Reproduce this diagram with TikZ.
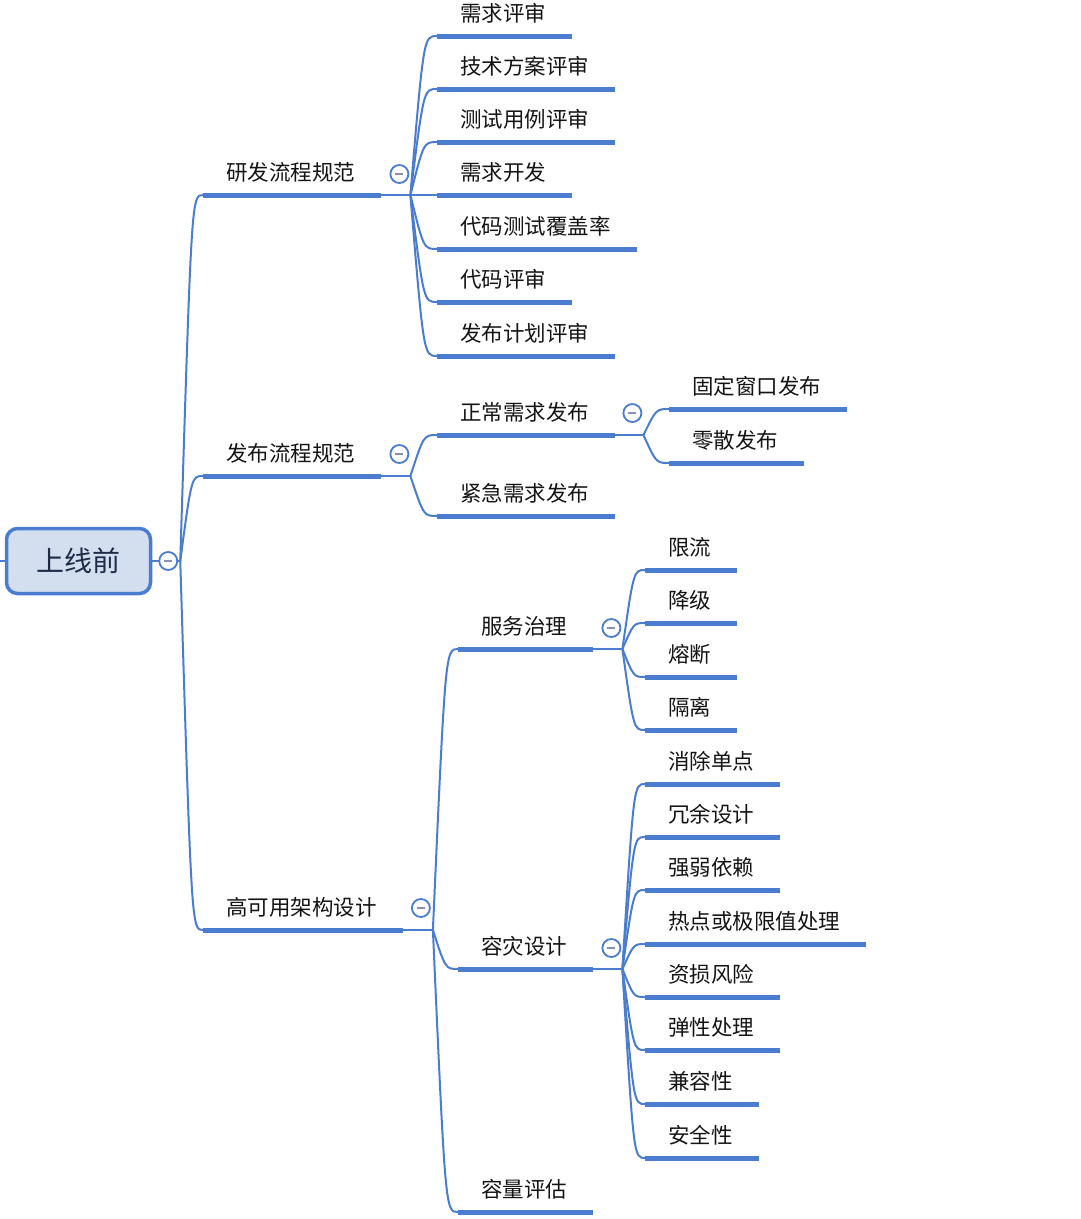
\documentclass[tikz,border=0pt]{standalone}
\usepackage{fontspec}
\newfontfamily\cjk{Noto Sans CJK SC}
\usetikzlibrary{calc}
\definecolor{branch}{HTML}{4A7CD0}
\definecolor{rootfill}{HTML}{D3DFEE}
\definecolor{rootink}{HTML}{1D2B48}
\definecolor{foldmark}{HTML}{8A90B4}

\tikzset{
  topic/.style={anchor=south west, font=\cjk\fontsize{21.5}{24}\selectfont, text=black!92,
    inner xsep=23pt, inner ysep=10pt, text height=18pt, text depth=4pt},
  rootbox/.style={draw=branch, line width=3.5pt, fill=rootfill, rounded corners=11pt,
    minimum width=144pt, minimum height=65pt, font=\cjk\fontsize{28}{32}\selectfont, text=rootink},
  uline/.style={draw=branch, line width=5pt},
  link/.style={draw=branch, line width=2pt},
  fold/.style={circle, draw=branch, line width=1.8pt, fill=white, minimum size=18pt, inner sep=0pt,
    path picture={\draw[foldmark, line width=1.6pt] ($(path picture bounding box.center)-(4,0)$) -- ++(8,0);}}
}

\begin{document}
\begin{tikzpicture}[x=1pt, y=-1pt]
    \useasboundingbox (0,0) rectangle (1080,1219);
    % Root
    \node[rootbox] (root) at (78.5,561) {上线前};

    % First level
    \node[topic] (rd) at (203,195) {研发流程规范};
    \node[topic] (fb) at (203,476) {发布流程规范};
    \node[topic] (gk) at (203,930) {高可用架构设计};

    % Development process
    \node[topic] (rd1) at (437,36) {需求评审};
    \node[topic] (rd2) at (437,89) {技术方案评审};
    \node[topic] (rd3) at (437,142) {测试用例评审};
    \node[topic] (rd4) at (437,195) {需求开发};
    \node[topic] (rd5) at (437,249) {代码测试覆盖率};
    \node[topic] (rd6) at (437,302) {代码评审};
    \node[topic] (rd7) at (437,356) {发布计划评审};

    % Release process
    \node[topic] (fb1) at (437,435) {正常需求发布};
    \node[topic] (fb2) at (437,516) {紧急需求发布};
    \node[topic] (fb11) at (669,409) {固定窗口发布};
    \node[topic] (fb12) at (669,463) {零散发布};

    % High availability
    \node[topic] (gk1) at (458,649) {服务治理};
    \node[topic] (gk2) at (458,969) {容灾设计};
    \node[topic] (gk3) at (458,1212) {容量评估};
    \node[topic] (gk11) at (645,570) {限流};
    \node[topic] (gk12) at (645,623) {降级};
    \node[topic] (gk13) at (645,677) {熔断};
    \node[topic] (gk14) at (645,730) {隔离};
    \node[topic] (gk21) at (645,784) {消除单点};
    \node[topic] (gk22) at (645,837) {冗余设计};
    \node[topic] (gk23) at (645,890) {强弱依赖};
    \node[topic] (gk24) at (645,944) {热点或极限值处理};
    \node[topic] (gk25) at (645,997) {资损风险};
    \node[topic] (gk26) at (645,1050) {弹性处理};
    \node[topic] (gk27) at (645,1104) {兼容性};
    \node[topic] (gk28) at (645,1158) {安全性};

    % Underlines
    \foreach \n in {rd,fb,gk,rd1,rd2,rd3,rd4,rd5,rd6,rd7,fb1,fb2,fb11,fb12,gk1,gk2,gk3,
      gk11,gk12,gk13,gk14,gk21,gk22,gk23,gk24,gk25,gk26,gk27,gk28}
      \draw[uline] (\n.south west) -- ($(\n.south east)+(3,0)$);

    % Connectors
    \draw[link] (root.west) -- ++(-8,0) coordinate (stub);
    \draw[link] (root.east) -- ++(28,0) coordinate (j0);
    \foreach \c in {rd,fb,gk}
      \draw[link] (j0) .. controls ($(j0 |- \c.south west)!0.5!(\c.south west)$) .. (\c.south west);
    \draw[link] (rd.south east) -- ++(32,0) coordinate (j1);
    \foreach \c in {rd1,rd2,rd3,rd4,rd5,rd6,rd7}
      \draw[link] (j1) .. controls ($(j1 |- \c.south west)!0.5!(\c.south west)$) .. (\c.south west);
    \draw[link] (fb.south east) -- ++(32,0) coordinate (j2);
    \foreach \c in {fb1,fb2}
      \draw[link] (j2) .. controls ($(j2 |- \c.south west)!0.5!(\c.south west)$) .. (\c.south west);
    \draw[link] (fb1.south east) -- ++(31,0) coordinate (j21);
    \foreach \c in {fb11,fb12}
      \draw[link] (j21) .. controls ($(j21 |- \c.south west)!0.5!(\c.south west)$) .. (\c.south west);
    \draw[link] (gk.south east) -- ++(33,0) coordinate (j3);
    \foreach \c in {gk1,gk2,gk3}
      \draw[link] (j3) .. controls ($(j3 |- \c.south west)!0.5!(\c.south west)$) .. (\c.south west);
    \draw[link] (gk1.south east) -- ++(32,0) coordinate (j31);
    \foreach \c in {gk11,gk12,gk13,gk14}
      \draw[link] (j31) .. controls ($(j31 |- \c.south west)!0.5!(\c.south west)$) .. (\c.south west);
    \draw[link] (gk2.south east) -- ++(32,0) coordinate (j32);
    \foreach \c in {gk21,gk22,gk23,gk24,gk25,gk26,gk27,gk28}
      \draw[link] (j32) .. controls ($(j32 |- \c.south west)!0.5!(\c.south west)$) .. (\c.south west);

    % Fold markers
    \node[fold] (f0) at ($(root.east)+(16,0)$) {};
    \node[fold] (f1) at ($(rd.south east)+(21,-21)$) {};
    \node[fold] (f2) at ($(fb.south east)+(21,-22)$) {};
    \node[fold] (f21) at ($(fb1.south east)+(20,-22)$) {};
    \node[fold] (f3) at ($(gk.south east)+(21,-22)$) {};
    \node[fold] (f31) at ($(gk1.south east)+(21,-21)$) {};
    \node[fold] (f32) at ($(gk2.south east)+(21,-21)$) {};
\end{tikzpicture}
\end{document}
